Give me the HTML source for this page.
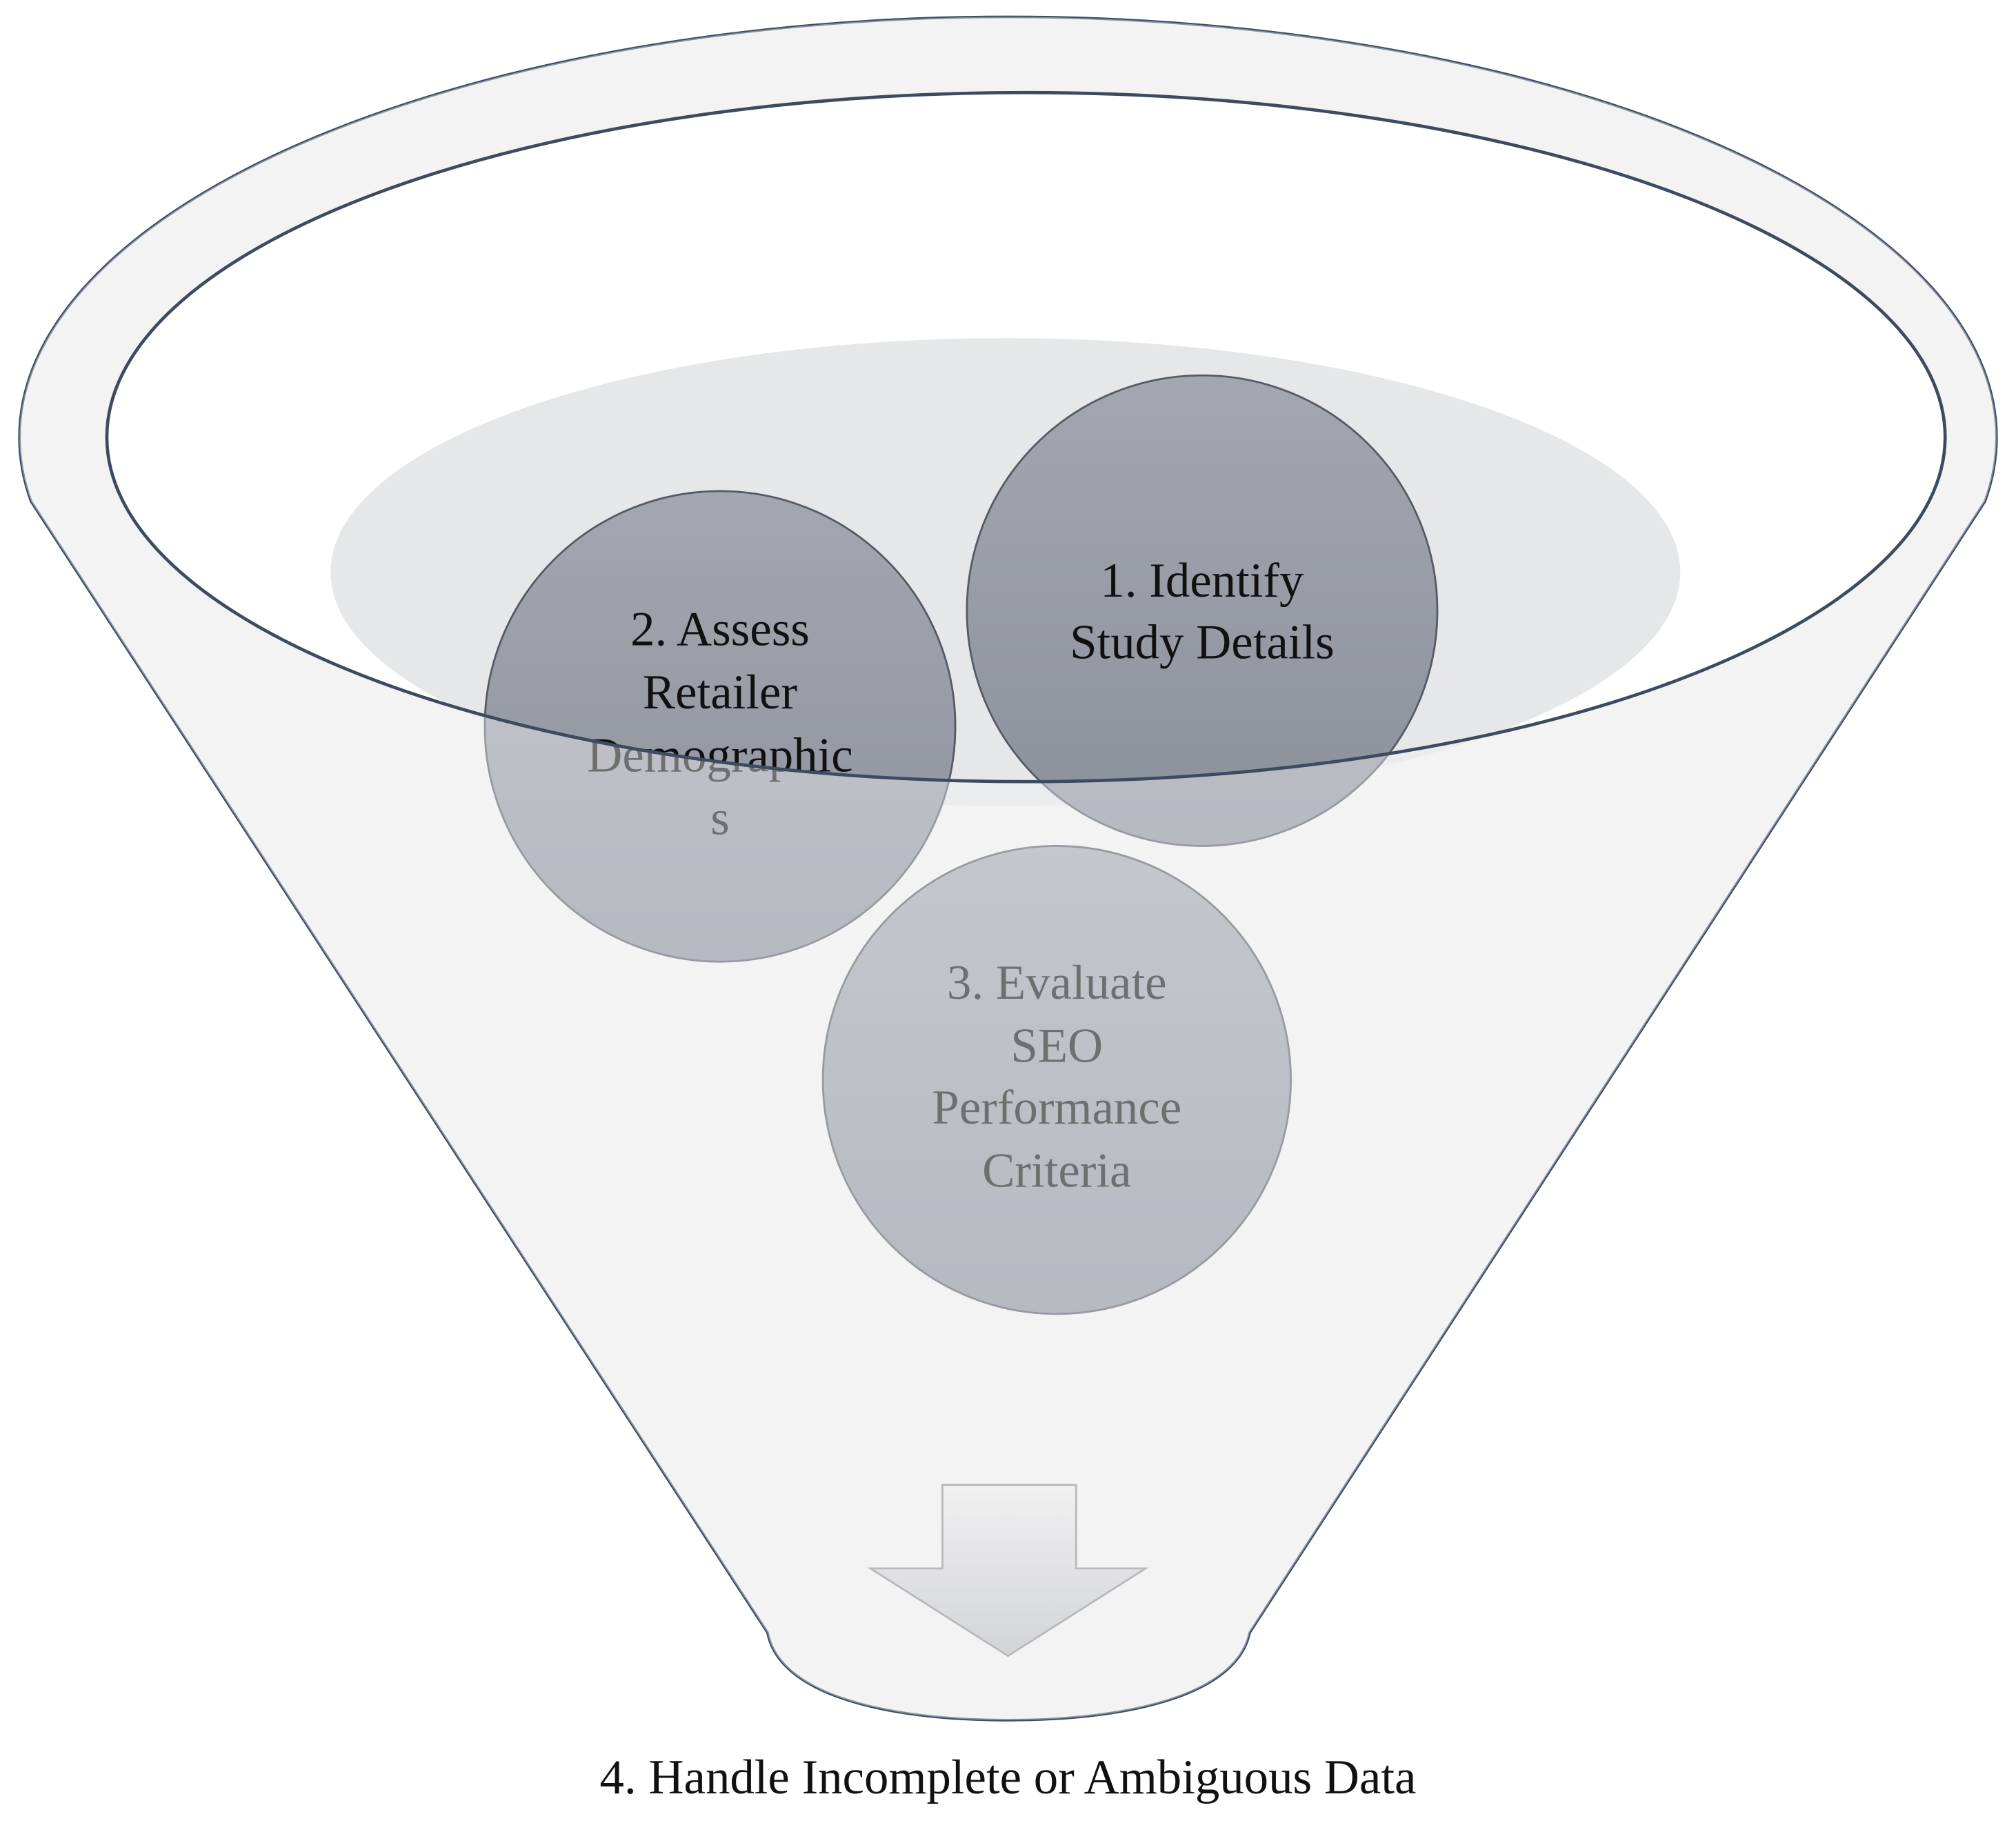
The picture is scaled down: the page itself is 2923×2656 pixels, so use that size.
<!DOCTYPE html>
<html><head><meta charset="utf-8"><style>html,body{margin:0;padding:0;background:#fff}svg{display:block}</style></head>
<body>
<svg width="2923" height="2656" viewBox="0 0 1568 1425" xmlns="http://www.w3.org/2000/svg">
<defs>
<linearGradient id="cg" x1="0" y1="0" x2="0" y2="1">
<stop offset="0" stop-color="#a3a7af"/><stop offset="1" stop-color="#8a909b"/>
</linearGradient>
<linearGradient id="ag" x1="0" y1="0" x2="0" y2="1">
<stop offset="0" stop-color="#f0f0f1"/><stop offset="1" stop-color="#d3d4d7"/>
</linearGradient>
</defs>
<path id="funnel" d="M24,390 A769,327 0 1 1 1544,390 L972,1270 C962,1318 880,1338 784,1338 C688,1338 606,1318 597,1270 Z" fill="#f3f3f3" stroke="#3d4a5f" stroke-width="2"/>
<ellipse cx="798" cy="340" rx="715" ry="268" fill="#fff"/>
<ellipse cx="782" cy="445" rx="525" ry="182" fill="#e6e7e9"/>
<g stroke="#555b66" stroke-width="1.5" fill="url(#cg)">
<circle cx="560" cy="565" r="183"/>
<circle cx="935" cy="475" r="183"/>
<circle cx="822" cy="840" r="182"/>
</g>
<g font-family="'Liberation Serif', serif" font-size="38" fill="#111" text-anchor="middle">
<text x="560" y="502">2. Assess</text>
<text x="560" y="551">Retailer</text>
<text x="560" y="600">Demographic</text>
<text x="560" y="649">s</text>
<text x="935" y="464">1. Identify</text>
<text x="935" y="512">Study Details</text>
<text x="822" y="777">3. Evaluate</text>
<text x="822" y="826">SEO</text>
<text x="822" y="874">Performance</text>
<text x="822" y="923">Criteria</text>
</g>
<path fill-rule="evenodd" fill="#f4f4f5" fill-opacity="0.42" d="M24,390 A769,327 0 1 1 1544,390 L972,1270 C962,1318 880,1338 784,1338 C688,1338 606,1318 597,1270 Z M83,340 A715,268 0 1 0 1513,340 A715,268 0 1 0 83,340 Z"/>
<ellipse cx="798" cy="340" rx="715" ry="268" fill="none" stroke="#3d4a5f" stroke-width="2.5"/>
<path d="M733,1155 L837,1155 L837,1220 L891,1220 L784,1288 L677,1220 L733,1220 Z" fill="url(#ag)" stroke="#b8b9bc" stroke-width="1.5"/>
<text x="784" y="1395" font-family="'Liberation Serif', serif" font-size="38" fill="#111" text-anchor="middle">4. Handle Incomplete or Ambiguous Data</text>
</svg>
</body></html>
